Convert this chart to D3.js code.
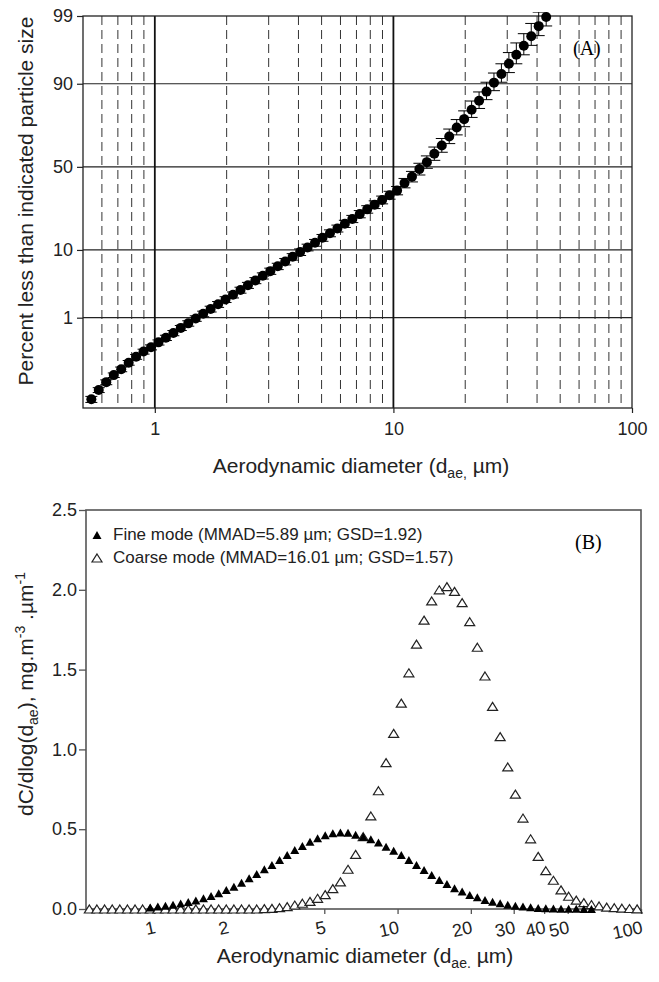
<!DOCTYPE html>
<html>
<head>
<meta charset="utf-8">
<script src="https://cdnjs.cloudflare.com/ajax/libs/d3/7.8.5/d3.min.js"></script>
<style>
  body { margin: 0; background: #fff; }
  svg { display: block; font-family: "Liberation Sans", Arial, sans-serif; }
</style>
</head>
<body>
<script>
// size channels (um), shared by both panels
var diam = [0.542, 0.582, 0.626, 0.673, 0.723, 0.777, 0.835, 0.897, 0.964, 1.036,
  1.113, 1.196, 1.285, 1.381, 1.484, 1.595, 1.714, 1.842, 1.979, 2.127,
  2.286, 2.456, 2.639, 2.836, 3.048, 3.275, 3.520, 3.782, 4.064, 4.368,
  4.693, 5.044, 5.420, 5.824, 6.259, 6.726, 7.227, 7.767, 8.346, 8.969,
  9.638, 10.36, 11.13, 11.96, 12.85, 13.81, 14.84, 15.95, 17.14, 18.42,
  19.79, 21.27, 22.86, 24.56, 26.39, 28.36, 30.48, 32.75, 35.20, 37.82,
  40.64, 43.68, 46.93, 50.44, 54.20, 58.24, 62.59, 67.26, 72.27, 77.67,
  83.46, 89.69, 96.38];

// panel A : cumulative percent and error
var cumPct = [0.017, 0.029, 0.045, 0.066, 0.090, 0.126, 0.17, 0.22, 0.27, 0.34,
  0.42, 0.52, 0.65, 0.79, 0.97, 1.17, 1.42, 1.70, 2.04, 2.42,
  2.87, 3.39, 3.98, 4.64, 5.39, 6.25, 7.20, 8.27, 9.43, 10.7,
  12.1, 13.7, 15.3, 17.1, 19.0, 21.1, 23.3, 25.6, 28.0, 30.5,
  33.1, 35.7, 40.1, 44.0, 48.6, 52.9, 58.0, 62.9, 68.0, 72.8,
  76.9, 81.1, 84.6, 87.7, 90.3, 92.4, 94.4, 95.8, 96.9, 97.8,
  98.5, 98.96];
var cumErr = [0.003, 0.004, 0.006, 0.008, 0.011, 0.015, 0.02, 0.026, 0.032, 0.04,
  0.05, 0.06, 0.07, 0.09, 0.11, 0.13, 0.16, 0.19, 0.22, 0.26,
  0.3, 0.35, 0.4, 0.46, 0.52, 0.6, 0.68, 0.76, 0.85, 0.95,
  1.05, 1.15, 1.25, 1.35, 1.5, 1.6, 1.7, 1.85, 2.0, 2.1,
  2.2, 2.4, 2.8, 3.2, 3.6, 3.8, 4.0, 4.0, 4.0, 3.9,
  3.7, 3.4, 3.0, 2.7, 2.3, 2.0, 1.7, 1.4, 1.1, 0.85,
  0.65, 0.45];

// panel B : dC/dlog(dae)
var fineY = [null, null, null, null, null, null, null, null, 0.010, 0.015,
  0.020, 0.027, 0.035, 0.044, 0.054, 0.067, 0.081, 0.098, 0.119, 0.140,
  0.165, 0.192, 0.219, 0.249, 0.276, 0.307, 0.338, 0.370, 0.395, 0.422,
  0.443, 0.462, 0.474, 0.479, 0.477, 0.466, 0.453, 0.437, 0.416, 0.390,
  0.365, 0.338, 0.307, 0.276, 0.244, 0.213, 0.182, 0.157, 0.130, 0.109,
  0.088, 0.073, 0.056, 0.046, 0.036, 0.027, 0.021, 0.015, 0.011, 0.007,
  0.005, 0.003, 0.002, 0.001, 0.001, 0.0, 0.0, null, null, null,
  null, null, null];
var coarseY = [0, 0, 0, 0, 0, 0, 0, 0, 0, 0,
  0, 0, 0, 0, 0, 0, 0, 0, 0, 0,
  0, 0, 0, 0.002, 0.004, 0.008, 0.015, 0.025, 0.036, 0.048,
  0.067, 0.090, 0.128, 0.170, 0.249, 0.342, 0.453, 0.583, 0.741, 0.917,
  1.10, 1.29, 1.48, 1.66, 1.81, 1.93, 2.00, 2.02, 1.99, 1.92,
  1.80, 1.64, 1.46, 1.27, 1.08, 0.89, 0.72, 0.57, 0.44, 0.33,
  0.24, 0.18, 0.12, 0.08, 0.056, 0.040, 0.028, 0.019, 0.012, 0.008,
  0.005, 0.003, 0.001];

var gridMinor = [0.6, 0.7, 0.8, 0.9, 2, 3, 4, 5, 6, 7, 8, 9, 20, 30, 40, 50, 60, 70, 80, 90];
var gridMajor = [1, 10];
var probTicks = [1, 10, 50, 90, 99];
var topXTicks = [1, 10, 100];
var botXTicks = [1, 2, 5, 10, 20, 30, 40, 50, 100];
var botYTicks = [0, 0.5, 1.0, 1.5, 2.0, 2.5];
var legendText = ["Fine mode (MMAD=5.89 \u00b5m; GSD=1.92)", "Coarse mode (MMAD=16.01 \u00b5m; GSD=1.57)"];

// inverse normal cdf (Acklam) - used for the probability axis
function probit(p) {
  var a = [-39.69683028665376, 220.9460984245205, -275.9285104469687, 138.3577518672690, -30.66479806614716, 2.506628277459239];
  var b = [-54.47609879822406, 161.5858368580409, -155.6989798598866, 66.80131188771972, -13.28068155288572];
  var c = [-0.007784894002430293, -0.3223964580411365, -2.400758277161838, -2.549732539343734, 4.374664141464968, 2.938163982698783];
  var d = [0.007784695709041462, 0.3224671290700398, 2.445134137142996, 3.754408661907416];
  var pl = 0.02425, q, r;
  if (p < pl) {
    q = Math.sqrt(-2 * Math.log(p));
    return (((((c[0]*q+c[1])*q+c[2])*q+c[3])*q+c[4])*q+c[5]) / ((((d[0]*q+d[1])*q+d[2])*q+d[3])*q+1);
  }
  if (p > 1 - pl) {
    q = Math.sqrt(-2 * Math.log(1 - p));
    return -(((((c[0]*q+c[1])*q+c[2])*q+c[3])*q+c[4])*q+c[5]) / ((((d[0]*q+d[1])*q+d[2])*q+d[3])*q+1);
  }
  q = p - 0.5; r = q * q;
  return (((((a[0]*r+a[1])*r+a[2])*r+a[3])*r+a[4])*r+a[5])*q / (((((b[0]*r+b[1])*r+b[2])*r+b[3])*r+b[4])*r+1);
}

function tri(cx, cy, w, h) {
  return 'M' + cx + ',' + (cy - h / 2) + 'L' + (cx + w / 2) + ',' + (cy + h / 2) + 'L' + (cx - w / 2) + ',' + (cy + h / 2) + 'Z';
}

var svg = d3.select('body').append('svg')
    .attr('width', 659)
    .attr('height', 982);

// ---------------- panel A ----------------
var aL = 83, aR = 632, aT = 16, aB = 408;
var xA = d3.scaleLog().domain([0.5, 100]).range([aL, aR]);
var zA = d3.scaleLinear().domain([probit(0.0001), probit(0.99)]).range([aB, aT]);
function yA(pct) { return zA(probit(pct / 100)); }

svg.append('clipPath').attr('id', 'clipA')
  .append('rect').attr('x', aL).attr('y', aT - 4).attr('width', aR - aL).attr('height', aB - aT + 4);

var gA = svg.append('g');

gA.selectAll('.vminor').data(gridMinor).enter().append('line')
    .attr('x1', function(d) { return xA(d); }).attr('x2', function(d) { return xA(d); })
    .attr('y1', aT).attr('y2', aB)
    .attr('stroke', '#333').attr('stroke-width', 1).attr('stroke-dasharray', '9,5');

gA.selectAll('.hgrid').data([1, 10, 50, 90]).enter().append('line')
    .attr('x1', aL).attr('x2', aR)
    .attr('y1', function(d) { return yA(d); }).attr('y2', function(d) { return yA(d); })
    .attr('stroke', '#222').attr('stroke-width', 1.2);

gA.selectAll('.vmajor').data(gridMajor).enter().append('line')
    .attr('x1', function(d) { return xA(d); }).attr('x2', function(d) { return xA(d); })
    .attr('y1', aT).attr('y2', aB)
    .attr('stroke', '#111').attr('stroke-width', 1.8);

gA.append('rect').attr('x', aL).attr('y', aT).attr('width', aR - aL).attr('height', aB - aT)
    .attr('fill', 'none').attr('stroke', '#222').attr('stroke-width', 1.3);

var yAxisA = d3.axisLeft(zA)
    .tickValues(probTicks.map(function(p) { return probit(p / 100); }))
    .tickFormat(function(d, i) { return probTicks[i]; })
    .tickSize(6).tickPadding(4);
var gyA = gA.append('g').attr('transform', 'translate(' + aL + ',0)').call(yAxisA);

var xAxisA = d3.axisBottom(xA).tickValues(topXTicks)
    .tickFormat(function(d) { return d; })
    .tickSize(5).tickPadding(9);
var gxA = gA.append('g').attr('transform', 'translate(0,' + aB + ')').call(xAxisA);

[gyA, gxA].forEach(function(g) {
  g.attr('font-size', 18).attr('font-family', null);
  g.select('.domain').remove();
  g.selectAll('line').attr('stroke', '#222').attr('stroke-width', 1.2);
  g.selectAll('text').attr('fill', '#222');
});

var ptsA = cumPct.map(function(p, i) { return { x: diam[i], p: p, e: cumErr[i] }; });
var dataA = gA.append('g').attr('clip-path', 'url(#clipA)');
var bars = dataA.selectAll('.bar').data(ptsA).enter().append('g');
bars.append('line')
    .attr('x1', function(d) { return xA(d.x); }).attr('x2', function(d) { return xA(d.x); })
    .attr('y1', function(d) { return yA(Math.max(d.p - d.e, 0.0005)); })
    .attr('y2', function(d) { return yA(Math.min(d.p + d.e, 99.8)); })
    .attr('stroke', '#000').attr('stroke-width', 1);
bars.append('line')
    .attr('x1', function(d) { return xA(d.x) - 6; }).attr('x2', function(d) { return xA(d.x) + 6; })
    .attr('y1', function(d) { return yA(Math.max(d.p - d.e, 0.0005)); })
    .attr('y2', function(d) { return yA(Math.max(d.p - d.e, 0.0005)); })
    .attr('stroke', '#000').attr('stroke-width', 1);
bars.append('line')
    .attr('x1', function(d) { return xA(d.x) - 6; }).attr('x2', function(d) { return xA(d.x) + 6; })
    .attr('y1', function(d) { return yA(Math.min(d.p + d.e, 99.8)); })
    .attr('y2', function(d) { return yA(Math.min(d.p + d.e, 99.8)); })
    .attr('stroke', '#000').attr('stroke-width', 1);
gA.selectAll('.dot').data(ptsA).enter().append('circle')
    .attr('cx', function(d) { return xA(d.x); })
    .attr('cy', function(d) { return yA(d.p); })
    .attr('r', 5)
    .attr('fill', '#000');

gA.append('text')
    .attr('x', 573).attr('y', 55)
    .attr('font-family', '"Liberation Serif", "Times New Roman", serif')
    .attr('font-size', 20)
    .text('(A)');

svg.append('text')
    .attr('transform', 'translate(33,201) rotate(-90)')
    .attr('text-anchor', 'middle')
    .attr('font-size', 21).attr('fill', '#222')
    .text('Percent less than indicated particle size');

var tA = svg.append('text')
    .attr('x', 361).attr('y', 473)
    .attr('text-anchor', 'middle')
    .attr('font-size', 21).attr('fill', '#222');
tA.append('tspan').text('Aerodynamic diameter (d');
tA.append('tspan').attr('font-size', 14).attr('dy', 5).text('ae,');
tA.append('tspan').attr('dy', -5).text(' \u00b5m)');

// ---------------- panel B ----------------
var bL = 86, bR = 641, bT = 510, bB = 909;
var xB = d3.scaleLog().domain([0.525, 100]).range([bL, bR]);
var yB = d3.scaleLinear().domain([0, 2.5]).range([bB, bT]);

var gB = svg.append('g');
gB.append('rect').attr('x', bL).attr('y', bT).attr('width', bR - bL).attr('height', bB - bT)
    .attr('fill', 'none').attr('stroke', '#555').attr('stroke-width', 1.6);

var yAxisB = d3.axisLeft(yB).tickValues(botYTicks).tickFormat(d3.format('.1f'))
    .tickSize(7).tickPadding(2);
var gyB = gB.append('g').attr('transform', 'translate(' + bL + ',0)').call(yAxisB);

var xAxisB = d3.axisBottom(xB).tickValues(botXTicks).tickFormat(function(d) { return d; })
    .tickSize(5);
var gxB = gB.append('g').attr('transform', 'translate(0,' + bB + ')').call(xAxisB);

[gyB, gxB].forEach(function(g) {
  g.attr('font-size', 18).attr('font-family', null);
  g.select('.domain').remove();
  g.selectAll('line').attr('stroke', '#555').attr('stroke-width', 1.3);
  g.selectAll('text').attr('fill', '#222');
});
gxB.selectAll('text')
    .attr('text-anchor', 'end')
    .attr('x', 2).attr('y', 24).attr('dy', null)
    .attr('transform', 'rotate(-12,2,24)');

var ptsCoarse = coarseY.map(function(v, i) { return { x: diam[i], v: v }; })
    .filter(function(d) { return d.v !== null && d.x <= 100; });
var ptsFine = fineY.map(function(v, i) { return { x: diam[i], v: v }; })
    .filter(function(d) { return d.v !== null; });

gB.selectAll('.coarse').data(ptsCoarse).enter().append('path')
    .attr('d', function(d) { return tri(xB(d.x), yB(d.v), 10, 8); })
    .attr('fill', '#fff').attr('stroke', '#222').attr('stroke-width', 1.2);

gB.selectAll('.fine').data(ptsFine).enter().append('path')
    .attr('d', function(d) { return tri(xB(d.x), yB(d.v), 9, 8); })
    .attr('fill', '#000');

// legend
var lg = gB.append('g');
lg.append('path').attr('d', tri(97, 535, 9, 8)).attr('fill', '#000');
lg.append('path').attr('d', tri(97, 558, 10, 8)).attr('fill', '#fff').attr('stroke', '#222').attr('stroke-width', 1.2);
lg.selectAll('.lt').data(legendText).enter().append('text')
    .attr('x', 113)
    .attr('y', function(d, i) { return 540 + i * 23; })
    .attr('font-size', 17).attr('fill', '#222')
    .text(function(d) { return d; });

gB.append('text')
    .attr('x', 575).attr('y', 549)
    .attr('font-family', '"Liberation Serif", "Times New Roman", serif')
    .attr('font-size', 20)
    .text('(B)');

var tyB = svg.append('text')
    .attr('transform', 'translate(33,694) rotate(-90)')
    .attr('text-anchor', 'middle')
    .attr('font-size', 21).attr('fill', '#222');
tyB.append('tspan').text('dC/dlog(d');
tyB.append('tspan').attr('font-size', 14).attr('dy', 5).text('ae');
tyB.append('tspan').attr('dy', -5).text('), mg.m');
tyB.append('tspan').attr('font-size', 14).attr('dy', -8).text('-3');
tyB.append('tspan').attr('dy', 8).text(' .\u00b5m');
tyB.append('tspan').attr('font-size', 14).attr('dy', -8).text('-1');

var txB = svg.append('text')
    .attr('x', 365).attr('y', 963)
    .attr('text-anchor', 'middle')
    .attr('font-size', 21).attr('fill', '#222');
txB.append('tspan').text('Aerodynamic diameter (d');
txB.append('tspan').attr('font-size', 14).attr('dy', 5).text('ae.');
txB.append('tspan').attr('dy', -5).text(' \u00b5m)');
</script>
</body>
</html>
